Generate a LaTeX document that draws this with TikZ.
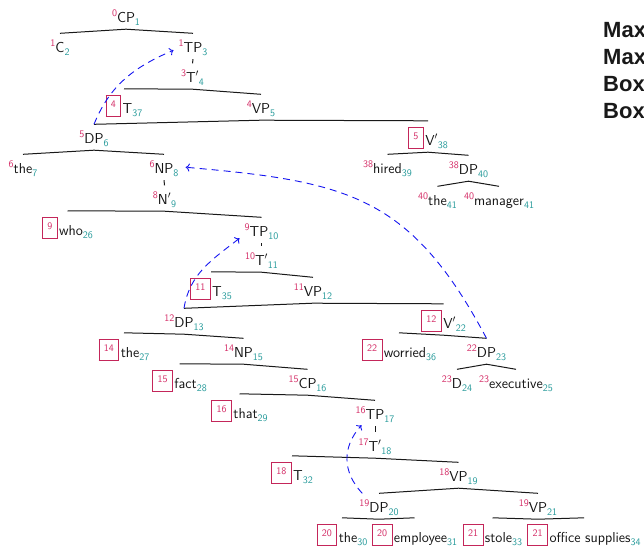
\documentclass[tikz,border=0pt]{standalone}
\usepackage{fontspec}
\newfontfamily\legendfont{Liberation Sans}
\usetikzlibrary{arrows.meta}

\definecolor{supc}{RGB}{212,44,102}
\definecolor{subc}{RGB}{38,154,154}
\definecolor{boxc}{RGB}{196,38,90}
\definecolor{movec}{RGB}{20,20,240}

% size of the index numbers
\newcommand\idxsize{\fontsize{10}{10}\selectfont}
% strut giving every label the same vertical extent
\newcommand\nstrut{\rule[-4pt]{0pt}{19.5pt}}
% label: raised start index, category/word, lowered end index
\newcommand\lab[3]{\nstrut\raisebox{5.5pt}{\idxsize\color{supc}#1}#2\raisebox{-3pt}{\idxsize\color{subc}#3}}
% framed index in front of a label
\newcommand\bx[1]{\rule[-4pt]{0pt}{25pt}{\setlength\fboxsep{0pt}\setlength\fboxrule{0.8pt}%
  \fcolorbox{boxc}{white}{\rule[-3.2pt]{0pt}{20.9pt}\hspace{4.5pt}\raisebox{6pt}{\idxsize\color{supc}#1}\hspace{4.5pt}}}\hspace{1.5pt}}

\begin{document}
\begin{tikzpicture}[x=1pt,y=-1pt,
  every node/.style={font=\sffamily\fontsize{14.4}{16}\selectfont, inner xsep=0pt, inner ysep=3pt, anchor=base, text=black!92},
  roof/.style={draw=black!90, line width=1pt},
  move/.style={draw=movec, dash pattern=on 7pt off 5pt, line width=0.9pt, -{To[length=4pt,width=8pt]}},
  legend/.style={font=\legendfont\bfseries\fontsize{22}{26}\selectfont, anchor=base west, inner sep=0pt, text=black!90}]

\useasboundingbox (0,0) rectangle (644,546);

% tree labels
\node (cp1) at (126,22) {\lab{0}{CP}{1}};
\node (c2) at (60,52) {\lab{1}{C}{2}};
\node (tp3) at (193,52) {\lab{1}{TP}{3}};
\node (t4) at (192.5,82) {\lab{3}{T$'$}{4}};
\node (t37) at (124,113) {\bx{4}\lab{}{T}{37}};
\node (vp5) at (261,113) {\lab{4}{VP}{5}};
\node (dp6) at (94,143) {\lab{5}{DP}{6}};
\node (v38) at (428,145) {\bx{5}\lab{}{V$'$}{38}};
\node (the7) at (23,173) {\lab{6}{the}{7}};
\node (np8) at (164,173) {\lab{6}{NP}{8}};
\node (hired39) at (387.5,173) {\lab{38}{hired}{39}};
\node (dp40) at (468.5,174) {\lab{38}{DP}{40}};
\node (n9) at (164.5,204) {\lab{8}{N$'$}{9}};
\node (the41) at (437.5,205) {\lab{40}{the}{41}};
\node (man41) at (499,205) {\lab{40}{manager}{41}};
\node (who26) at (67.5,235) {\bx{9}\lab{}{who}{26}};
\node (tp10) at (261.5,236) {\lab{9}{TP}{10}};
\node (t11) at (261.5,265) {\lab{10}{T$'$}{11}};
\node (t35) at (211,296) {\bx{11}\lab{}{T}{35}};
\node (vp12) at (313,296) {\lab{11}{VP}{12}};
\node (dp13) at (184,327) {\lab{12}{DP}{13}};
\node (v22) at (443.5,328) {\bx{12}\lab{}{V$'$}{22}};
\node (the27) at (124,357) {\bx{14}\lab{}{the}{27}};
\node (np15) at (243.5,357) {\lab{14}{NP}{15}};
\node (wor36) at (399,357) {\bx{22}\lab{}{worried}{36}};
\node (dp23) at (486.5,357) {\lab{22}{DP}{23}};
\node (fact28) at (179.5,388) {\bx{15}\lab{}{fact}{28}};
\node (cp16) at (307.5,388) {\lab{15}{CP}{16}};
\node (d24) at (457,388) {\lab{23}{D}{24}};
\node (exe25) at (516,388) {\lab{23}{executive}{25}};
\node (that29) at (239.5,418) {\bx{16}\lab{}{that}{29}};
\node (tp17) at (375,419) {\lab{16}{TP}{17}};
\node (t18) at (375,451) {\lab{17}{T$'$}{18}};
\node (t32) at (292,480) {\bx{18}\lab{}{T}{32}};
\node (vp19) at (458.5,481) {\lab{18}{VP}{19}};
\node (dp20) at (379,512) {\lab{19}{DP}{20}};
\node (vp21) at (538,512) {\lab{19}{VP}{21}};
\node (the30) at (342,542) {\bx{20}\lab{}{the}{30}};
\node (emp31) at (414.5,542) {\bx{20}\lab{}{employee}{31}};
\node (stole33) at (492.5,542) {\bx{21}\lab{}{stole}{33}};
\node (sup34) at (584,542) {\bx{21}\lab{}{office supplies}{34}};

% branches
\draw[roof] (c2.north) -- (cp1.south) -- (tp3.north);
\draw[roof] (tp3.south) -- (t4.north);
\draw[roof] (t37.north) -- (t4.south) -- (vp5.north);
\draw[roof] (dp6.north) -- (vp5.south) -- (v38.north);
\draw[roof] (the7.north) -- (dp6.south) -- (np8.north);
\draw[roof] (hired39.north) -- (v38.south) -- (dp40.north);
\draw[roof] (the41.north) -- (dp40.south) -- (man41.north);
\draw[roof] (np8.south) -- (n9.north);
\draw[roof] (who26.north) -- (n9.south) -- (tp10.north);
\draw[roof] (tp10.south) -- (t11.north);
\draw[roof] (t35.north) -- (t11.south) -- (vp12.north);
\draw[roof] (dp13.north) -- (vp12.south) -- (v22.north);
\draw[roof] (the27.north) -- (dp13.south) -- (np15.north);
\draw[roof] (wor36.north) -- (v22.south) -- (dp23.north);
\draw[roof] (fact28.north) -- (np15.south) -- (cp16.north);
\draw[roof] (d24.north) -- (dp23.south) -- (exe25.north);
\draw[roof] (that29.north) -- (cp16.south) -- (tp17.north);
\draw[roof] (tp17.south) -- (t18.north);
\draw[roof] (t32.north) -- (t18.south) -- (vp19.north);
\draw[roof] (dp20.north) -- (vp19.south) -- (vp21.north);
\draw[roof] (the30.north) -- (dp20.south) -- (emp31.north);
\draw[roof] (stole33.north) -- (vp21.south) -- (sup34.north);

% movement arrows
\draw[move] (dp6.north) to[out=68,in=203] ([xshift=-5pt,yshift=-4pt]tp3.west);
\draw[move] (dp23.north) to[out=118,in=-5,looseness=1.2] ([xshift=7pt]np8.east);
\draw[move] (dp13.north) to[out=81,in=218] ([xshift=-5pt,yshift=-8pt]tp10.west);
\draw[move] ([xshift=3pt]dp20.north west) to[out=133,in=228,looseness=1.1] ([xshift=6pt,yshift=1pt]tp17.south west);

% legend
\node[legend] (lg1) at (603,37) {Max};
\node[legend] (lg2) at (603,64) {Max};
\node[legend] (lg3) at (603,91) {Box};
\node[legend] (lg4) at (603,118) {Box};
\end{tikzpicture}
\end{document}
